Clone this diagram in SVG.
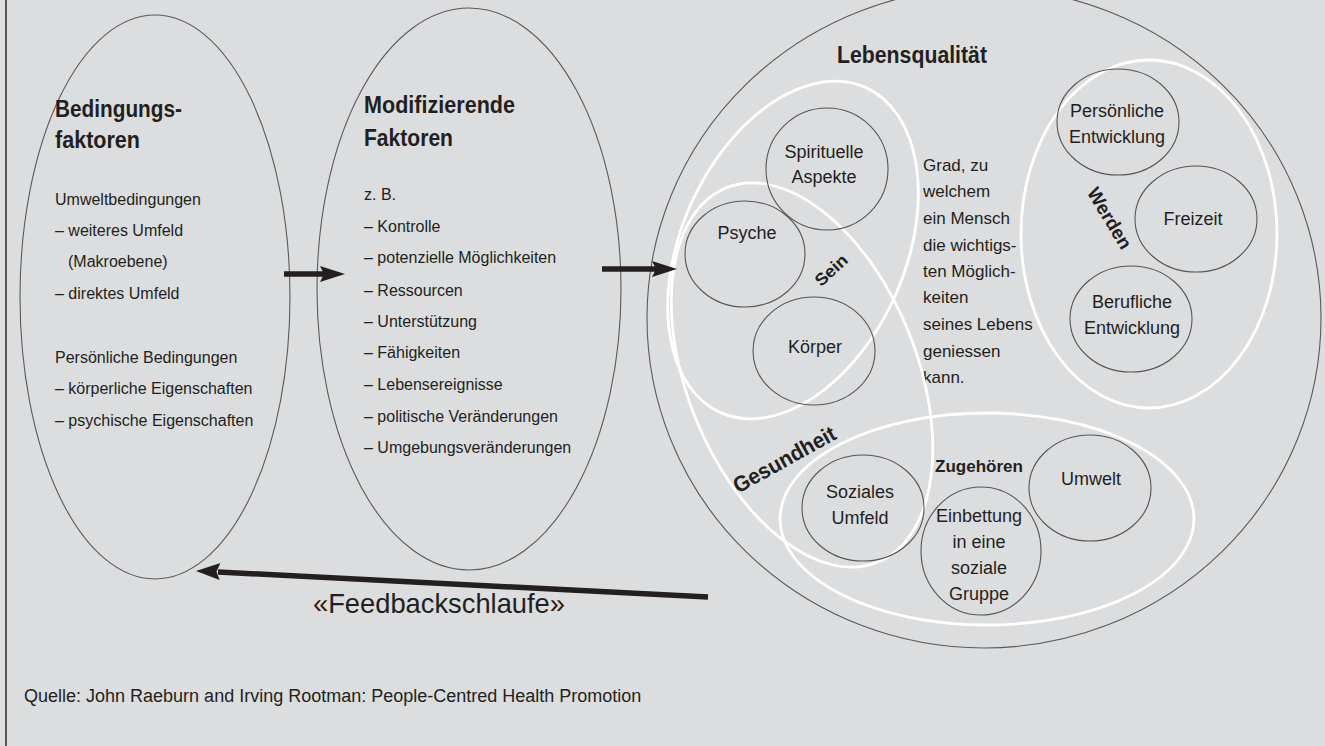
<svg xmlns="http://www.w3.org/2000/svg" width="1325" height="746" viewBox="0 0 1325 746">
<style>
text { font-family: "Liberation Sans", Arial, sans-serif; fill: #231f20; }
.b16 { font-size: 16px; }
.h { font-size: 23px; font-weight: bold; }
.n { font-size: 18px; text-anchor: middle; }
.g { font-size: 17px; }
.oval { fill: none; stroke: #5a5a5a; stroke-width: 1.1; }
.circ { fill: none; stroke: #555; stroke-width: 1.1; }
.white { fill: none; stroke: #ffffff; stroke-width: 2.8; }
.lbl { font-weight: bold; text-anchor: middle; }
.arr { fill: #231f20; }
.shaft { stroke: #231f20; stroke-width: 5.5; fill: none; }
</style>
<rect x="0" y="0" width="1325" height="746" fill="#dcdddf"/>
<line x1="6" y1="0" x2="6" y2="746" stroke="#555" stroke-width="2"/>

<g id="bedingungsfaktoren">
  <ellipse class="oval" cx="155" cy="297" rx="135" ry="282"/>
  <text class="h" x="55" y="117" textLength="127" lengthAdjust="spacingAndGlyphs">Bedingungs-</text>
  <text class="h" x="55" y="148" textLength="85" lengthAdjust="spacingAndGlyphs">faktoren</text>
  <text class="b16" x="55" y="205">Umweltbedingungen</text>
  <text class="b16" x="55" y="236">– weiteres Umfeld</text>
  <text class="b16" x="68" y="267">(Makroebene)</text>
  <text class="b16" x="55" y="299">– direktes Umfeld</text>
  <text class="b16" x="55" y="363">Persönliche Bedingungen</text>
  <text class="b16" x="55" y="394">– körperliche Eigenschaften</text>
  <text class="b16" x="55" y="426">– psychische Eigenschaften</text>
</g>

<g id="modifizierende-faktoren">
  <ellipse class="oval" cx="469" cy="289" rx="152" ry="281"/>
  <text class="h" x="364" y="113" textLength="151" lengthAdjust="spacingAndGlyphs">Modifizierende</text>
  <text class="h" x="364" y="146" textLength="89" lengthAdjust="spacingAndGlyphs">Faktoren</text>
  <text class="b16" x="364" y="200">z. B.</text>
  <text class="b16" x="364" y="232">– Kontrolle</text>
  <text class="b16" x="364" y="263">– potenzielle Möglichkeiten</text>
  <text class="b16" x="364" y="296">– Ressourcen</text>
  <text class="b16" x="364" y="327">– Unterstützung</text>
  <text class="b16" x="364" y="358">– Fähigkeiten</text>
  <text class="b16" x="364" y="390">– Lebensereignisse</text>
  <text class="b16" x="364" y="422">– politische Veränderungen</text>
  <text class="b16" x="364" y="453">– Umgebungsveränderungen</text>
</g>

<g id="lebensqualitaet">
  <ellipse class="oval" cx="984" cy="318" rx="337" ry="330"/>
  <text class="h" x="837" y="63" textLength="150" lengthAdjust="spacingAndGlyphs">Lebensqualität</text>
  <text class="g" x="923" y="171">Grad, zu</text>
  <text class="g" x="923" y="197">welchem</text>
  <text class="g" x="923" y="224">ein Mensch</text>
  <text class="g" x="923" y="251">die wichtigs-</text>
  <text class="g" x="923" y="277">ten Möglich-</text>
  <text class="g" x="923" y="303">keiten</text>
  <text class="g" x="923" y="330">seines Lebens</text>
  <text class="g" x="923" y="357">geniessen</text>
  <text class="g" x="923" y="383">kann.</text>
</g>

<g id="sein">
  <ellipse class="white" cx="0" cy="0" rx="178" ry="112" transform="translate(793,250) rotate(-66)"/>
  <text class="lbl" font-size="17" transform="translate(831,270) rotate(-43)" x="0" y="6" textLength="38" lengthAdjust="spacingAndGlyphs">Sein</text>
</g>
<g id="gesundheit">
  <ellipse class="white" cx="0" cy="0" rx="202" ry="115" transform="translate(802,375) rotate(68)"/>
  <text class="lbl" font-size="22" transform="translate(788,466) rotate(-29)" x="0" y="0" textLength="114" lengthAdjust="spacingAndGlyphs">Gesundheit</text>
</g>
<g id="zugehoeren">
  <ellipse class="white" cx="987" cy="519" rx="207" ry="106"/>
  <text class="lbl" font-size="17" x="979" y="472">Zugehören</text>
</g>
<g id="werden">
  <ellipse class="white" cx="1149" cy="234" rx="128" ry="174"/>
  <text class="lbl" font-size="19" transform="translate(1110,218) rotate(59)" x="0" y="7" textLength="68" lengthAdjust="spacingAndGlyphs">Werden</text>
</g>

<g id="spirituelle-aspekte">
  <ellipse class="circ" cx="827" cy="169" rx="61" ry="61"/>
  <text class="n" x="824" y="158">Spirituelle</text>
  <text class="n" x="824" y="183">Aspekte</text>
</g>
<g id="psyche">
  <ellipse class="circ" cx="745" cy="254" rx="60" ry="53"/>
  <text class="n" x="747" y="239">Psyche</text>
</g>
<g id="koerper">
  <ellipse class="circ" cx="814" cy="351" rx="61" ry="54"/>
  <text class="n" x="815" y="353">Körper</text>
</g>
<g id="persoenliche-entwicklung">
  <ellipse class="circ" cx="1118" cy="122" rx="61" ry="53"/>
  <text class="n" x="1117" y="117">Persönliche</text>
  <text class="n" x="1117" y="143">Entwicklung</text>
</g>
<g id="freizeit">
  <ellipse class="circ" cx="1196" cy="219" rx="61" ry="53"/>
  <text class="n" x="1193" y="225">Freizeit</text>
</g>
<g id="berufliche-entwicklung">
  <ellipse class="circ" cx="1131" cy="319" rx="61" ry="53"/>
  <text class="n" x="1132" y="308">Berufliche</text>
  <text class="n" x="1132" y="334">Entwicklung</text>
</g>
<g id="soziales-umfeld">
  <ellipse class="circ" cx="863" cy="508" rx="61" ry="53"/>
  <text class="n" x="860" y="498">Soziales</text>
  <text class="n" x="860" y="524">Umfeld</text>
</g>
<g id="einbettung">
  <ellipse class="circ" cx="981" cy="551" rx="60" ry="64"/>
  <text class="n" x="979" y="522">Einbettung</text>
  <text class="n" x="979" y="548">in eine</text>
  <text class="n" x="979" y="574">soziale</text>
  <text class="n" x="979" y="600">Gruppe</text>
</g>
<g id="umwelt">
  <ellipse class="circ" cx="1090" cy="488" rx="61" ry="53"/>
  <text class="n" x="1091" y="485">Umwelt</text>
</g>

<g id="connectors">
  <line class="shaft" x1="284" y1="274" x2="324" y2="274"/>
  <polygon class="arr" points="345,274 320,266 324,274 320,282"/>
  <line class="shaft" x1="602" y1="269" x2="656" y2="269"/>
  <polygon class="arr" points="677,269 652,261 656,269 652,277"/>
  <line class="shaft" x1="708" y1="597" x2="218" y2="572"/>
  <polygon class="arr" points="196,571 220.4,563 216.5,571.8 219.6,580"/>
  <text font-size="28" x="313" y="613" textLength="252" lengthAdjust="spacingAndGlyphs">«Feedbackschlaufe»</text>
</g>

<g id="quelle">
  <text font-size="18" x="24" y="702">Quelle: John Raeburn and Irving Rootman: People-Centred Health Promotion</text>
</g>
</svg>
